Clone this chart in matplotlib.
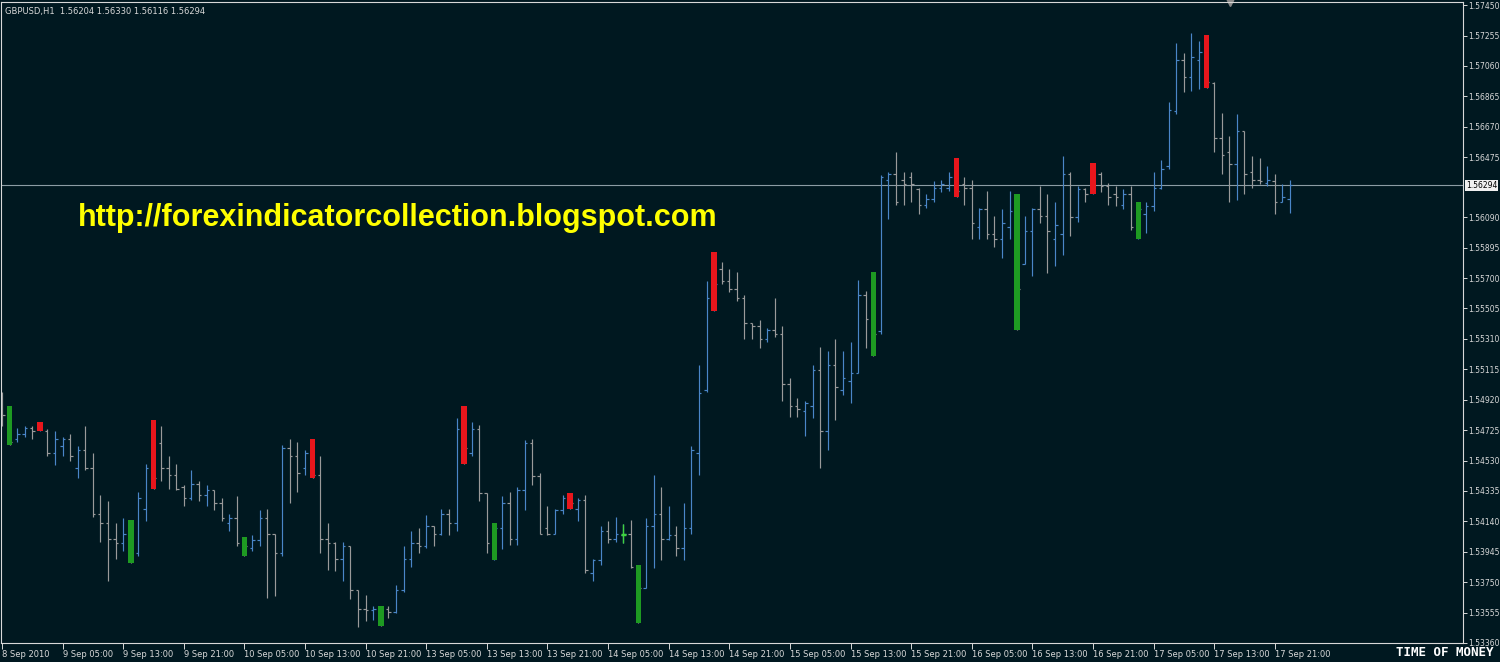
import numpy as np
import matplotlib
matplotlib.use("Agg")
import matplotlib.pyplot as plt
import matplotlib.transforms as mtransforms

# GBPUSD H1, 8 Sep 2010 21:00 .. 17 Sep 2010 23:00 (171 bars)
bar_open = [
    1.5493, 1.5485, 1.5467, 1.5470, 1.5474, 1.5473, 1.5472, 1.5458, 1.5462, 1.5467,
    1.5448, 1.5460, 1.5448, 1.5419, 1.5413, 1.5403, 1.5400, 1.5406, 1.5394, 1.5422,
    1.5448, 1.5464, 1.5448, 1.5444, 1.5436, 1.5429, 1.5438, 1.5431, 1.5434, 1.5426,
    1.5413, 1.5416, 1.5400, 1.5397, 1.5402, 1.5416, 1.5406, 1.5394, 1.5461, 1.5456,
    1.5448, 1.5458, 1.5444, 1.5403, 1.5400, 1.5390, 1.5398, 1.5370, 1.5358, 1.5357,
    1.5358, 1.5358, 1.5356, 1.5370, 1.5390, 1.5400, 1.5398, 1.5411, 1.5406, 1.5419,
    1.5413, 1.5473, 1.5458, 1.5473, 1.5432, 1.5400, 1.5410, 1.5426, 1.5403, 1.5434,
    1.5464, 1.5443, 1.5410, 1.5406, 1.5421, 1.5429, 1.5422, 1.5428, 1.5381, 1.5389,
    1.5408, 1.5403, 1.5405, 1.5406, 1.5385, 1.5371, 1.5411, 1.5419, 1.5403, 1.5405,
    1.5397, 1.5410, 1.5458, 1.5498, 1.5557, 1.5576, 1.5568, 1.5563, 1.5557, 1.5541,
    1.5539, 1.5531, 1.5537, 1.5534, 1.5502, 1.5488, 1.5485, 1.5488, 1.5511, 1.5472,
    1.5514, 1.5498, 1.5504, 1.5509, 1.5559, 1.5541, 1.5536, 1.5633, 1.5637, 1.5633,
    1.5635, 1.5627, 1.5617, 1.5621, 1.5628, 1.5628, 1.5635, 1.5630, 1.5628, 1.5603,
    1.5614, 1.5598, 1.5595, 1.5603, 1.5613, 1.5579, 1.5600, 1.5614, 1.5610, 1.5595,
    1.5598, 1.5637, 1.5609, 1.5627, 1.5627, 1.5637, 1.5629, 1.5624, 1.5617, 1.5624,
    1.5603, 1.5611, 1.5616, 1.5628, 1.5642, 1.5677, 1.5710, 1.5699, 1.5710, 1.5715,
    1.5695, 1.5660, 1.5651, 1.5643, 1.5664, 1.5638, 1.5633, 1.5631, 1.5632, 1.5619,
    1.56204,
]
bar_high = [
    1.5497, 1.5488, 1.5474, 1.5475, 1.5475, 1.5478, 1.5473, 1.5472, 1.5468, 1.5470,
    1.5462, 1.5475, 1.5458, 1.5431, 1.5427, 1.5413, 1.5416, 1.5415, 1.5433, 1.5451,
    1.5479, 1.5475, 1.5456, 1.5451, 1.5437, 1.5447, 1.5440, 1.5437, 1.5434, 1.5429,
    1.5419, 1.5430, 1.5404, 1.5405, 1.5421, 1.5422, 1.5406, 1.5463, 1.5467, 1.5465,
    1.5460, 1.5467, 1.5456, 1.5413, 1.5401, 1.5401, 1.5398, 1.5370, 1.5367, 1.5360,
    1.5360, 1.5360, 1.5373, 1.5398, 1.5408, 1.5410, 1.5418, 1.5411, 1.5422, 1.5422,
    1.5480, 1.5488, 1.5478, 1.5476, 1.5432, 1.5413, 1.5430, 1.5433, 1.5436, 1.5466,
    1.5467, 1.5445, 1.5424, 1.5422, 1.5431, 1.5432, 1.5429, 1.5431, 1.5390, 1.5411,
    1.5414, 1.5417, 1.5412, 1.5415, 1.5386, 1.5416, 1.5444, 1.5436, 1.5424, 1.5411,
    1.5426, 1.5462, 1.5514, 1.5568, 1.5587, 1.5580, 1.5576, 1.5574, 1.5559, 1.5541,
    1.5543, 1.5538, 1.5557, 1.5539, 1.5506, 1.5493, 1.5491, 1.5514, 1.5526, 1.5523,
    1.5531, 1.5523, 1.5529, 1.5569, 1.5562, 1.5574, 1.5636, 1.5638, 1.5651, 1.5638,
    1.5638, 1.5628, 1.5624, 1.5632, 1.5633, 1.5638, 1.5647, 1.5635, 1.5633, 1.5615,
    1.5626, 1.5610, 1.5614, 1.5626, 1.5624, 1.5610, 1.5615, 1.5629, 1.5624, 1.5619,
    1.5648, 1.5638, 1.5629, 1.5628, 1.5644, 1.5638, 1.5631, 1.5629, 1.5627, 1.5629,
    1.5619, 1.5619, 1.5638, 1.5646, 1.5683, 1.5721, 1.5714, 1.5727, 1.5722, 1.5726,
    1.5696, 1.5676, 1.5661, 1.5675, 1.5664, 1.5648, 1.5647, 1.5642, 1.5637, 1.5630,
    1.56330,
]
bar_low = [
    1.5475, 1.5463, 1.5465, 1.5468, 1.5467, 1.5472, 1.5456, 1.5450, 1.5456, 1.5453,
    1.5442, 1.5447, 1.5417, 1.5401, 1.5376, 1.5390, 1.5395, 1.5387, 1.5392, 1.5414,
    1.5435, 1.5440, 1.5435, 1.5434, 1.5424, 1.5428, 1.5427, 1.5424, 1.5421, 1.5414,
    1.5408, 1.5398, 1.5392, 1.5395, 1.5398, 1.5365, 1.5366, 1.5392, 1.5426, 1.5433,
    1.5444, 1.5442, 1.5394, 1.5383, 1.5382, 1.5376, 1.5364, 1.5346, 1.5350, 1.5351,
    1.5347, 1.5352, 1.5355, 1.5369, 1.5385, 1.5394, 1.5397, 1.5398, 1.5405, 1.5405,
    1.5408, 1.5451, 1.5456, 1.5427, 1.5394, 1.5389, 1.5396, 1.5399, 1.5399, 1.5421,
    1.5437, 1.5406, 1.5405, 1.5406, 1.5419, 1.5422, 1.5414, 1.5381, 1.5376, 1.5386,
    1.5400, 1.5401, 1.5400, 1.5384, 1.5349, 1.5371, 1.5384, 1.5389, 1.5402, 1.5392,
    1.5389, 1.5406, 1.5444, 1.5497, 1.5549, 1.5566, 1.5561, 1.5555, 1.5531, 1.5531,
    1.5525, 1.5529, 1.5532, 1.5491, 1.5481, 1.5481, 1.5469, 1.5480, 1.5448, 1.5460,
    1.5479, 1.5495, 1.5490, 1.5509, 1.5525, 1.5520, 1.5534, 1.5608, 1.5617, 1.5617,
    1.5619, 1.5611, 1.5615, 1.5619, 1.5625, 1.5626, 1.5622, 1.5617, 1.5595, 1.5595,
    1.5595, 1.5590, 1.5583, 1.5595, 1.5537, 1.5579, 1.5571, 1.5605, 1.5573, 1.5578,
    1.5585, 1.5597, 1.5606, 1.5619, 1.5624, 1.5625, 1.5617, 1.5616, 1.5614, 1.5601,
    1.5595, 1.5599, 1.5613, 1.5627, 1.5640, 1.5675, 1.5689, 1.5690, 1.5691, 1.5692,
    1.5651, 1.5637, 1.5619, 1.5620, 1.5624, 1.5628, 1.5630, 1.5629, 1.5611, 1.5619,
    1.56116,
]
bar_close = [
    1.5482, 1.5465, 1.5470, 1.5474, 1.5472, 1.5476, 1.5458, 1.5467, 1.5467, 1.5456,
    1.5460, 1.5448, 1.5419, 1.5413, 1.5403, 1.5400, 1.5406, 1.5398, 1.5429, 1.5448,
    1.5442, 1.5448, 1.5444, 1.5435, 1.5429, 1.5438, 1.5431, 1.5434, 1.5426, 1.5416,
    1.5416, 1.5400, 1.5398, 1.5402, 1.5416, 1.5406, 1.5394, 1.5461, 1.5456, 1.5445,
    1.5458, 1.5444, 1.5403, 1.5400, 1.5390, 1.5398, 1.5370, 1.5358, 1.5357, 1.5358,
    1.5353, 1.5356, 1.5370, 1.5390, 1.5400, 1.5398, 1.5411, 1.5406, 1.5419, 1.5413,
    1.5473, 1.5461, 1.5473, 1.5432, 1.5400, 1.5410, 1.5426, 1.5403, 1.5434, 1.5464,
    1.5443, 1.5406, 1.5406, 1.5421, 1.5429, 1.5426, 1.5428, 1.5383, 1.5389, 1.5408,
    1.5403, 1.5406, 1.5406, 1.5385, 1.5371, 1.5411, 1.5419, 1.5403, 1.5405, 1.5397,
    1.5410, 1.5460, 1.5496, 1.5557, 1.5566, 1.5568, 1.5563, 1.5557, 1.5541, 1.5539,
    1.5531, 1.5537, 1.5534, 1.5502, 1.5488, 1.5486, 1.5490, 1.5511, 1.5472, 1.5514,
    1.5500, 1.5506, 1.5509, 1.5559, 1.5544, 1.5534, 1.5635, 1.5637, 1.5619, 1.5630,
    1.5630, 1.5617, 1.5621, 1.5628, 1.5630, 1.5635, 1.5626, 1.5628, 1.5605, 1.5614,
    1.5598, 1.5595, 1.5605, 1.5613, 1.5563, 1.5600, 1.5614, 1.5610, 1.5600, 1.5604,
    1.5637, 1.5609, 1.5627, 1.5624, 1.5630, 1.5629, 1.5622, 1.5622, 1.5624, 1.5603,
    1.5614, 1.5616, 1.5628, 1.5640, 1.5678, 1.5710, 1.5699, 1.5712, 1.5715, 1.5696,
    1.5660, 1.5649, 1.5643, 1.5664, 1.5637, 1.5633, 1.5632, 1.5633, 1.5619, 1.5622,
    1.56294,
]

# indicator signals (bar index)
sell_signals = [5, 20, 41, 61, 75, 94, 126, 144, 159]
buy_signals = [1, 17, 32, 50, 65, 84, 115, 134, 150]
weak_signals = [82]

time_labels = [
    "8 Sep 2010", "9 Sep 05:00", "9 Sep 13:00", "9 Sep 21:00", "10 Sep 05:00",
    "10 Sep 13:00", "10 Sep 21:00", "13 Sep 05:00", "13 Sep 13:00", "13 Sep 21:00",
    "14 Sep 05:00", "14 Sep 13:00", "14 Sep 21:00", "15 Sep 05:00", "15 Sep 13:00",
    "15 Sep 21:00", "16 Sep 05:00", "16 Sep 13:00", "16 Sep 21:00", "17 Sep 05:00",
    "17 Sep 13:00", "17 Sep 21:00",
]
price_labels = [
    1.57450, 1.57255, 1.57060, 1.56865, 1.56670, 1.56475, 1.56090, 1.55895,
    1.55700, 1.55505, 1.55310, 1.55115, 1.54920, 1.54725, 1.54530, 1.54335,
    1.54140, 1.53945, 1.53750, 1.53555, 1.53360,
]
last_price = 1.56294

BG = "#001820"
UP = "#4a86c8"
DOWN = "#9a9a9a"
FG = "#d8d8d8"

o = np.array(bar_open)
h = np.array(bar_high)
l = np.array(bar_low)
c = np.array(bar_close)
x = np.arange(len(o))
colors = np.where(c > o, UP, DOWN)

fig = plt.figure(figsize=(15, 6.62), dpi=100, facecolor=BG)
W, H = 1500, 662
ax = fig.add_axes([1 / W, (H - 643) / H, 1462 / W, 641 / H])
ax.set_facecolor(BG)

px = 7.576  # pixels per bar
ax.set_xlim(-1 / px, -1 / px + 1462 / px)
ax.set_ylim(1.5336, 1.5747)

tick = 0.33
ax.vlines(x, l, h, colors=colors, lw=0.85)
ax.hlines(o, x - tick, x, colors=colors, lw=0.85)
ax.hlines(c, x, x + tick, colors=colors, lw=0.85)

for idx_list, col in ((sell_signals, "#e8161c"), (buy_signals, "#1e9a22")):
    idx = np.array(idx_list)
    ax.bar(idx, h[idx] - l[idx], bottom=l[idx], width=0.72, color=col,
           zorder=3)
for i in weak_signals:
    ax.vlines(i, l[i], h[i], colors="#3fd23f", lw=1.0, zorder=3)
    ax.hlines([o[i], c[i]], i - tick, i + tick, colors="#3fd23f", lw=1.0, zorder=3)

# current price line
ax.axhline(last_price, color="#8c9ca4", lw=0.8, zorder=1)

for sp in ax.spines.values():
    sp.set_color(FG)
    sp.set_linewidth(0.8)

ax.set_xticks(np.arange(0, len(time_labels) * 8, 8))
ax.set_xticklabels(time_labels, fontsize=6, color=FG)
for lab in ax.get_xticklabels():
    lab.set_ha("left")
ax.tick_params(axis="x", colors=FG, length=4, width=0.7, pad=1)

ax.yaxis.tick_right()
ax.set_yticks(price_labels)
ax.set_yticklabels([f"{p:.5f}" for p in price_labels], fontsize=5.5, color=FG)
ax.tick_params(axis="y", colors=FG, length=3, width=0.7, pad=1)

trans = mtransforms.blended_transform_factory(ax.transAxes, ax.transData)
ax.text(1.002, last_price, f"{last_price:.5f}", transform=trans, fontsize=5.5,
        color="#000000", va="center", ha="left",
        bbox=dict(boxstyle="square,pad=0.15", fc="#f0f0f0", ec="none"))

ax.text(0.003, 0.985, "GBPUSD,H1  1.56204 1.56330 1.56116 1.56294",
        transform=ax.transAxes, fontsize=6, color=FG, va="center", ha="left")

ax.text(77 / 1462, 1 - 216 / 641, "http://forexindicatorcollection.blogspot.com",
        transform=ax.transAxes, fontsize=22, fontweight="bold",
        family="Liberation Sans", color="#ffff00", va="center", ha="left")

ax.plot([1229 / 1462], [1.0], marker="v", markersize=6, color="#8a8a8a",
        transform=ax.transAxes, clip_on=False)

fig.text(1494 / W, 1 - 652 / H, "TIME OF MONEY", fontsize=9, fontweight="bold",
         family="DejaVu Sans Mono", color="#ffffff", ha="right", va="center")

fig.savefig("out.png", dpi=100, facecolor=BG)
